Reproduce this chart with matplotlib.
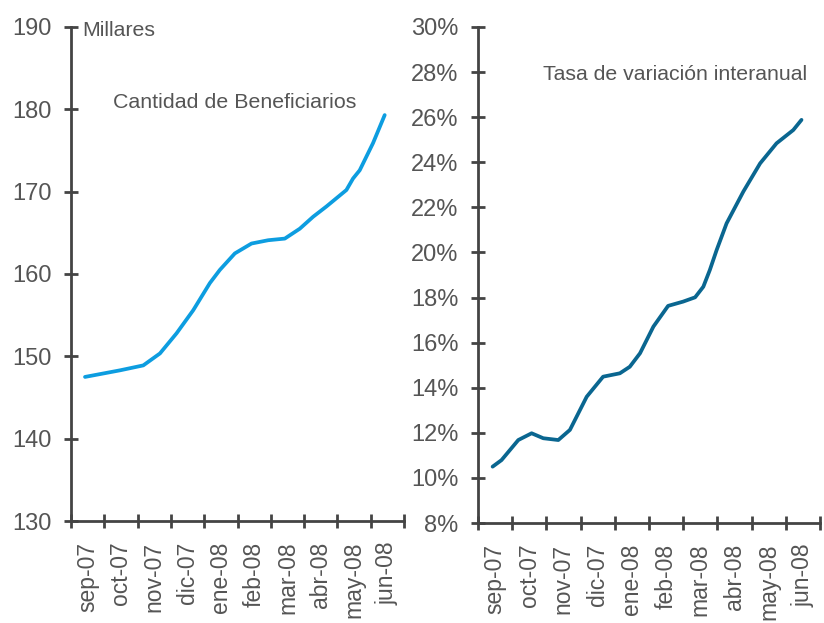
import matplotlib
matplotlib.use("Agg")
import matplotlib.pyplot as plt
from matplotlib.ticker import FixedLocator, FuncFormatter

plt.rcParams['font.family'] = ['Liberation Sans', 'DejaVu Sans']

months = ["sep-07", "oct-07", "nov-07", "dic-07", "ene-08", "feb-08",
          "mar-08", "abr-08", "may-08", "jun-08"]

# Beneficiaries (thousands): x = position in months
ben_x = [0.42, 1.47, 2.17, 2.67, 3.17, 3.67, 4.17, 4.47, 4.92, 5.42, 5.92,
         6.42, 6.87, 7.27, 7.67, 8.27, 8.47, 8.67, 9.07, 9.42]
ben_y = [147.5, 148.3, 148.9, 150.35, 152.8, 155.6, 158.9, 160.5, 162.5,
         163.7, 164.1, 164.3, 165.5, 166.95, 168.2, 170.2, 171.6, 172.6,
         175.9, 179.3]

# Year-on-year change (%)
var_x = [0.43, 0.69, 1.18, 1.57, 1.91, 2.35, 2.69, 3.18, 3.66, 4.15, 4.44,
         4.74, 5.13, 5.56, 6.0, 6.35, 6.59, 6.78, 6.98, 7.27, 7.76, 8.25,
         8.73, 9.22, 9.46]
var_y = [10.50, 10.79, 11.68, 11.98, 11.76, 11.68, 12.13, 13.60, 14.49,
         14.64, 14.93, 15.53, 16.71, 17.63, 17.82, 18.01, 18.48, 19.22,
         20.11, 21.29, 22.70, 23.95, 24.84, 25.43, 25.88]

TXT = '#555555'
SP = '#444444'

fig = plt.figure(figsize=(8.24, 6.23), dpi=100)
ax1 = fig.add_axes([0.0862, 0.1637, 0.4041, 0.7930])
ax2 = fig.add_axes([0.5800, 0.1605, 0.4151, 0.7962])


def style(ax):
    for s in ['top', 'right']:
        ax.spines[s].set_visible(False)
    for s in ['left', 'bottom']:
        ax.spines[s].set_color(SP)
        ax.spines[s].set_linewidth(2)
    ax.set_xlim(0, len(months))
    ax.xaxis.set_major_locator(FixedLocator(range(len(months) + 1)))
    ax.xaxis.set_minor_locator(FixedLocator([i + 0.5 for i in range(len(months))]))
    ax.set_xticklabels([])
    ax.set_xticklabels(months, minor=True, rotation=90, fontsize=16.5, color=TXT)
    ax.tick_params(axis='x', which='major', direction='inout', length=10,
                   width=2, color=SP)
    ax.tick_params(axis='x', which='minor', length=0, pad=15)
    ax.tick_params(axis='y', direction='inout', length=10, width=2,
                   color=SP, labelsize=17, labelcolor=TXT, pad=9)
    ax.patch.set_alpha(0)


style(ax1)
ax1.plot(ben_x, ben_y, color='#0d9de0', lw=2.7, solid_capstyle='round')
ax1.set_ylim(130, 190)
ax1.set_yticks(range(130, 191, 10))
ax1.text(0.035, 0.993, 'Millares', transform=ax1.transAxes, fontsize=15.3,
         color=TXT, va='center', ha='left')
ax1.text(0.4925, 0.848, 'Cantidad de Beneficiarios', transform=ax1.transAxes,
         fontsize=15.4, color=TXT, va='center', ha='center')

style(ax2)
ax2.plot(var_x, var_y, color='#0a6690', lw=2.7, solid_capstyle='round')
ax2.set_ylim(8, 30)
ax2.set_yticks(range(8, 31, 2))
ax2.yaxis.set_major_formatter(FuncFormatter(lambda v, p: f'{v:.0f}%'))
ax2.text(0.575, 0.904, 'Tasa de variación interanual', transform=ax2.transAxes,
         fontsize=15.3, color=TXT, va='center', ha='center')

fig.savefig('out.png', dpi=100)
